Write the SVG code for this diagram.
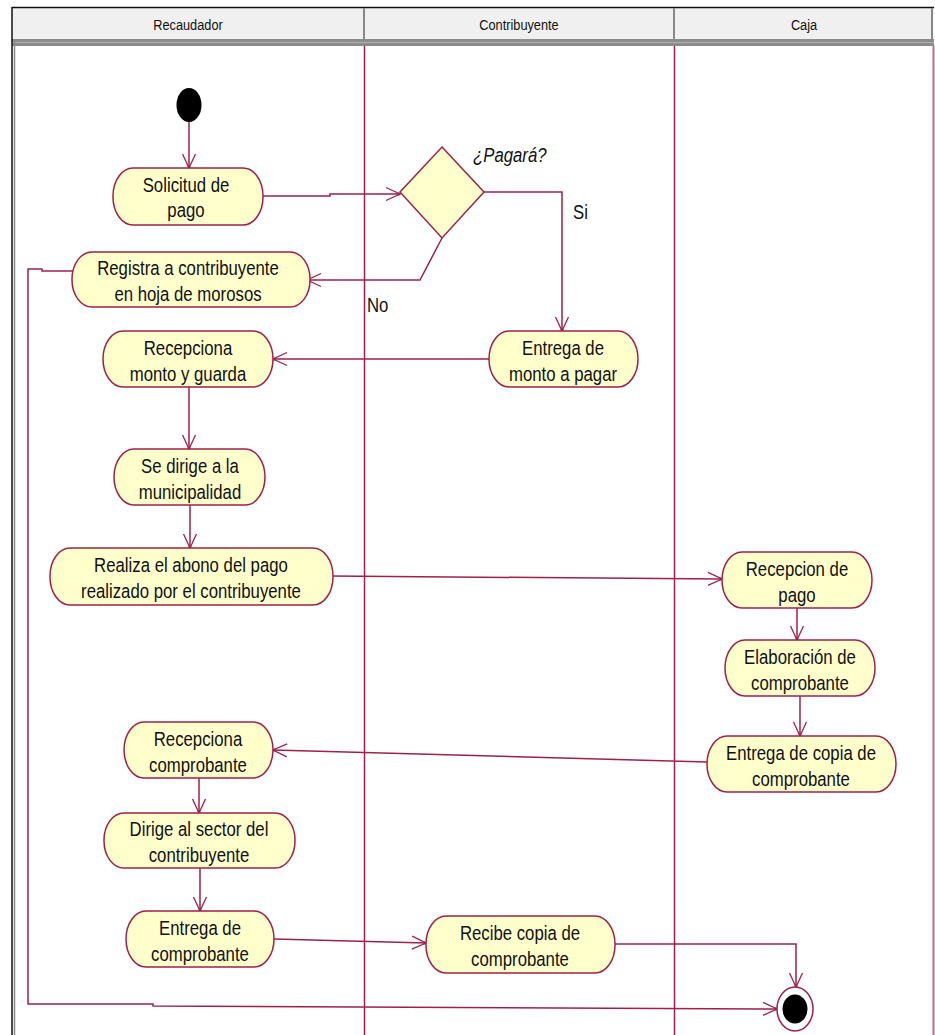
<svg xmlns="http://www.w3.org/2000/svg" width="935" height="1035" viewBox="0 0 935 1035">
<style>
.node rect{fill:#ffffcc;stroke:#a0204c;stroke-width:1.5}
.node text,.lbl{font-family:"Liberation Sans",Arial,sans-serif;font-size:19.5px;fill:#111;text-anchor:middle}
.lbl{text-anchor:start}
.hdr{font-family:"Liberation Sans",Arial,sans-serif;font-size:14.5px;fill:#111;text-anchor:middle}
.conn path{fill:none;stroke:#a0204c;stroke-width:1.5;marker-end:url(#arr)}
.lane{stroke:#a0204c;stroke-width:1.5}
</style>
<defs>
<marker id="arr" markerWidth="18" markerHeight="16" refX="15" refY="8" orient="auto" markerUnits="userSpaceOnUse">
<path d="M1,1.5 L15,8 L1,14.5" fill="none" stroke="#a0204c" stroke-width="1.3"/>
<circle cx="14" cy="8" r="1.5" fill="#a0204c"/>
</marker>
</defs>
<rect width="935" height="1035" fill="#fff"/>
<g id="swimlanes">
<rect x="12.5" y="7.5" width="921" height="33" fill="#f0f0f0" stroke="none"/>
<line x1="12" y1="7.5" x2="934" y2="7.5" stroke="#111" stroke-width="1.5"/>
<rect x="12" y="39" width="922" height="7" fill="#8c8c8c"/>
<line x1="12" y1="42.5" x2="934" y2="42.5" stroke="#b0b0b0" stroke-width="1"/>
<line x1="364" y1="8" x2="364" y2="40" stroke="#888" stroke-width="2"/>
<line x1="674" y1="8" x2="674" y2="40" stroke="#888" stroke-width="2"/>
<line x1="932" y1="8" x2="932" y2="40" stroke="#888" stroke-width="2"/>
<line x1="12" y1="7" x2="12" y2="1035" stroke="#111" stroke-width="1.5"/>
<line x1="14.5" y1="40" x2="14.5" y2="1035" stroke="#888" stroke-width="1.5"/>
<line class="lane" x1="364.5" y1="46" x2="364.5" y2="1035"/>
<line class="lane" x1="674.5" y1="46" x2="674.5" y2="1035"/>
<line x1="933.5" y1="46" x2="933.5" y2="1035" stroke="#c8668a" stroke-width="2"/>
<text class="hdr" transform="translate(188 30) scale(0.88 1)">Recaudador</text>
<text class="hdr" transform="translate(519 30) scale(0.88 1)">Contribuyente</text>
<text class="hdr" transform="translate(804 30) scale(0.88 1)">Caja</text>
</g>
<g id="connectors" class="conn">
<path d="M189,122 V168"/>
<path d="M263,196 H330 V194 H400"/>
<path d="M442,238 L420,280 H307"/>
<path d="M484,192 H562 V331"/>
<path d="M489,359 H273"/>
<path d="M189,387 V449"/>
<path d="M190,505 V548"/>
<path d="M330,576 L722,579"/>
<path d="M797,608 V640"/>
<path d="M800,696 V736"/>
<path d="M707,762 L273,750"/>
<path d="M199,778 V813"/>
<path d="M200,868 V911"/>
<path d="M274,939 L426,943"/>
<path d="M615,944 H796 V987"/>
<path d="M74,271 H42 V269 H28 V1004 H153 V1006 L777,1009"/>
</g>
<g id="start"><ellipse cx="189" cy="105" rx="12.5" ry="17" fill="#000"/></g>
<g id="n_solicitud" class="node"><rect x="113" y="168" width="150" height="57" rx="20" ry="28"/><text transform="translate(186 192) scale(0.86 1)">Solicitud de</text><text transform="translate(186 217) scale(0.86 1)">pago</text></g>
<g id="decision"><polygon points="442,147 484,192 442,238 400,192" fill="#ffffcc" stroke="#a0204c" stroke-width="1.5"/></g>
<text class="lbl" transform="translate(473 162) scale(0.86 1)" font-style="italic">¿Pagará?</text>
<text class="lbl" transform="translate(573 219) scale(0.86 1)">Si</text>
<text class="lbl" transform="translate(367 312) scale(0.86 1)">No</text>
<g id="n_registra" class="node"><rect x="72" y="252" width="238" height="55" rx="20" ry="27"/><text transform="translate(188 275) scale(0.86 1)">Registra a contribuyente</text><text transform="translate(188 301) scale(0.86 1)">en hoja de morosos</text></g>
<g id="n_entrega_monto" class="node"><rect x="489" y="331" width="149" height="56" rx="20" ry="28"/><text transform="translate(563 355) scale(0.86 1)">Entrega de</text><text transform="translate(563 381) scale(0.86 1)">monto a pagar</text></g>
<g id="n_recepciona_monto" class="node"><rect x="103" y="331" width="170" height="56" rx="20" ry="28"/><text transform="translate(188 355) scale(0.86 1)">Recepciona</text><text transform="translate(188 381) scale(0.86 1)">monto y guarda</text></g>
<g id="n_se_dirige" class="node"><rect x="114" y="449" width="151" height="56" rx="20" ry="28"/><text transform="translate(190 473) scale(0.86 1)">Se dirige a la</text><text transform="translate(190 499) scale(0.86 1)">municipalidad</text></g>
<g id="n_realiza" class="node"><rect x="50" y="548" width="283" height="57" rx="20" ry="28"/><text transform="translate(191 572) scale(0.86 1)">Realiza el abono del pago</text><text transform="translate(191 598) scale(0.86 1)">realizado por el contribuyente</text></g>
<g id="n_recepcion_pago" class="node"><rect x="722" y="552" width="150" height="56" rx="20" ry="28"/><text transform="translate(797 576) scale(0.86 1)">Recepcion de</text><text transform="translate(797 602) scale(0.86 1)">pago</text></g>
<g id="n_elaboracion" class="node"><rect x="725" y="640" width="150" height="56" rx="20" ry="28"/><text transform="translate(800 664) scale(0.86 1)">Elaboración de</text><text transform="translate(800 690) scale(0.86 1)">comprobante</text></g>
<g id="n_entrega_copia" class="node"><rect x="707" y="736" width="189" height="56" rx="20" ry="28"/><text transform="translate(801 760) scale(0.86 1)">Entrega de copia de</text><text transform="translate(801 786) scale(0.86 1)">comprobante</text></g>
<g id="n_recepciona_comp" class="node"><rect x="124" y="722" width="149" height="56" rx="20" ry="28"/><text transform="translate(198 746) scale(0.86 1)">Recepciona</text><text transform="translate(198 772) scale(0.86 1)">comprobante</text></g>
<g id="n_dirige" class="node"><rect x="104" y="813" width="191" height="55" rx="20" ry="27"/><text transform="translate(199 836) scale(0.86 1)">Dirige al sector del</text><text transform="translate(199 862) scale(0.86 1)">contribuyente</text></g>
<g id="n_entrega_comp" class="node"><rect x="126" y="911" width="148" height="56" rx="20" ry="28"/><text transform="translate(200 935) scale(0.86 1)">Entrega de</text><text transform="translate(200 961) scale(0.86 1)">comprobante</text></g>
<g id="n_recibe" class="node"><rect x="426" y="916" width="189" height="57" rx="20" ry="28"/><text transform="translate(520 940) scale(0.86 1)">Recibe copia de</text><text transform="translate(520 966) scale(0.86 1)">comprobante</text></g>
<g id="end"><ellipse cx="795" cy="1009" rx="18" ry="22" fill="#fff" stroke="#a0204c" stroke-width="1.5"/><ellipse cx="795" cy="1009" rx="12.5" ry="14.5" fill="#000"/></g>
</svg>
